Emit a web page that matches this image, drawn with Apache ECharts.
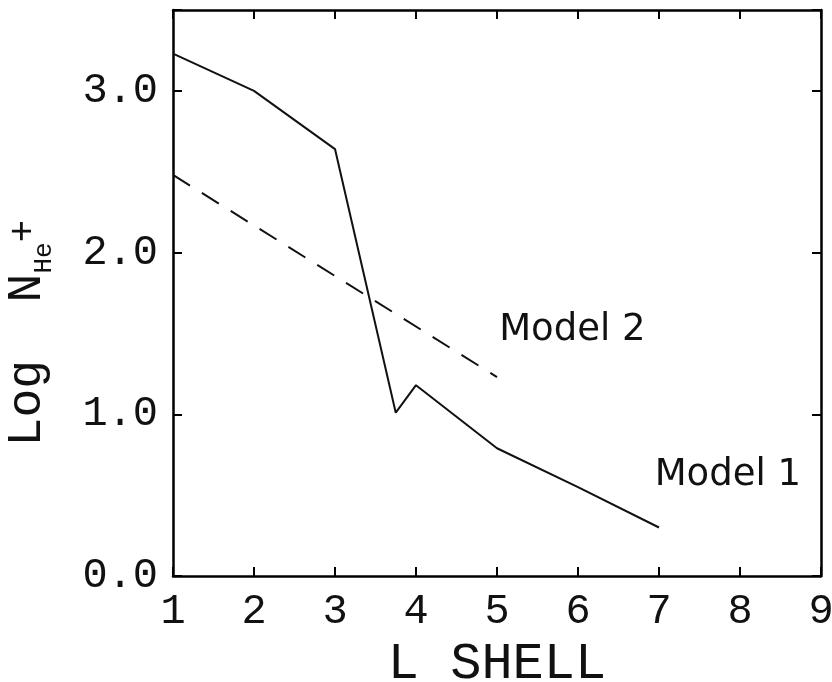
<!DOCTYPE html>
<html>
<head>
<meta charset="utf-8">
<script src="https://cdn.jsdelivr.net/npm/echarts@6/dist/echarts.min.js"></script>
<style>
html,body{margin:0;padding:0;background:#fff;}
#chart{width:832px;height:682px;}
</style>
</head>
<body>
<div id="chart"></div>
<script>
// Data
var model1L = [1, 2, 3, 3.75, 4, 5, 6, 7];
var model1Log = [3.23, 3.0, 2.64, 1.01, 1.18, 0.79, 0.55, 0.30];
var model2L = [1, 5];
var model2Log = [2.48, 1.23];
var xTicks = [1, 2, 3, 4, 5, 6, 7, 8, 9];
var yTickLabels = ['0.0', '1.0', '2.0', '3.0'];
var label1 = { text: 'Model 1', L: 7.85, v: 0.62 };
var label2 = { text: 'Model 2', L: 5.93, v: 1.52 };

function pairs(xs, ys) { return xs.map(function (x, i) { return [x, ys[i]]; }); }

var tickFont = 'Liberation Mono';
var chart = echarts.init(document.getElementById('chart'), null, { renderer: 'canvas' });
var axisLine = { show: true, onZero: false, lineStyle: { color: '#000', width: 2.5 } };
var tickStyle = { show: true, inside: true, length: 9, lineStyle: { color: '#000', width: 2 } };

chart.setOption({
  animation: false,
  backgroundColor: '#fff',
  grid: { left: 173, right: 11, top: 10, bottom: 106, containLabel: false, outerBoundsMode: 'none' },
  xAxis: [{
    type: 'value', min: 1, max: 9, interval: 1, position: 'bottom',
    axisLine: axisLine, axisTick: tickStyle, splitLine: { show: false },
    axisLabel: { margin: 15, fontFamily: tickFont, fontSize: 42, color: '#111',
      formatter: function (v) { return xTicks.indexOf(v) >= 0 ? String(v) : ''; } },
    name: 'L SHELL', nameLocation: 'middle', nameGap: 56,
    nameTextStyle: { fontFamily: tickFont, fontSize: 52, color: '#111' }
  }, {
    type: 'value', min: 1, max: 9, interval: 1, position: 'top',
    axisLine: axisLine, axisTick: tickStyle, axisLabel: { show: false }, splitLine: { show: false }
  }],
  yAxis: [{
    type: 'value', min: 0, max: 3.5, interval: 1, position: 'left',
    axisLine: axisLine, axisTick: tickStyle, splitLine: { show: false },
    axisLabel: { margin: 15, fontFamily: tickFont, fontSize: 42, color: '#111',
      formatter: function (v) { return (v % 1 === 0 && yTickLabels[v] !== undefined) ? yTickLabels[v] : ''; } },
    name: '{a|Log  N}{b|He}{c|+}', nameLocation: 'middle', nameGap: 122, nameRotate: 90,
    nameTextStyle: {
      padding: [0, 80, 0, 0],
      rich: {
        a: { fontFamily: tickFont, fontSize: 48, color: '#111', verticalAlign: 'bottom' },
        b: { fontFamily: tickFont, fontSize: 26, color: '#111', verticalAlign: 'bottom', padding: [0, 0, -6, 0] },
        c: { fontFamily: tickFont, fontSize: 38, color: '#111', verticalAlign: 'bottom', padding: [0, 0, 8, 0] }
      }
    }
  }, {
    type: 'value', min: 0, max: 3.5, interval: 1, position: 'right',
    axisLine: axisLine, axisTick: tickStyle, axisLabel: { show: false }, splitLine: { show: false }
  }],
  series: [{
    name: 'Model 1', type: 'line', data: pairs(model1L, model1Log),
    showSymbol: false, symbol: 'none',
    lineStyle: { color: '#111', width: 2, type: 'solid' },
    markPoint: {
      symbol: 'circle', symbolSize: 0,
      label: { show: true, position: 'inside', formatter: label1.text,
        fontFamily: 'DejaVu Sans', fontSize: 37, color: '#111' },
      data: [{ coord: [label1.L, label1.v] }]
    }
  }, {
    name: 'Model 2', type: 'line', data: pairs(model2L, model2Log),
    showSymbol: false, symbol: 'none',
    lineStyle: { color: '#111', width: 2, type: [20, 14] },
    markPoint: {
      symbol: 'circle', symbolSize: 0,
      label: { show: true, position: 'inside', formatter: label2.text,
        fontFamily: 'DejaVu Sans', fontSize: 37, color: '#111' },
      data: [{ coord: [label2.L, label2.v] }]
    }
  }]
});
</script>
</body>
</html>
